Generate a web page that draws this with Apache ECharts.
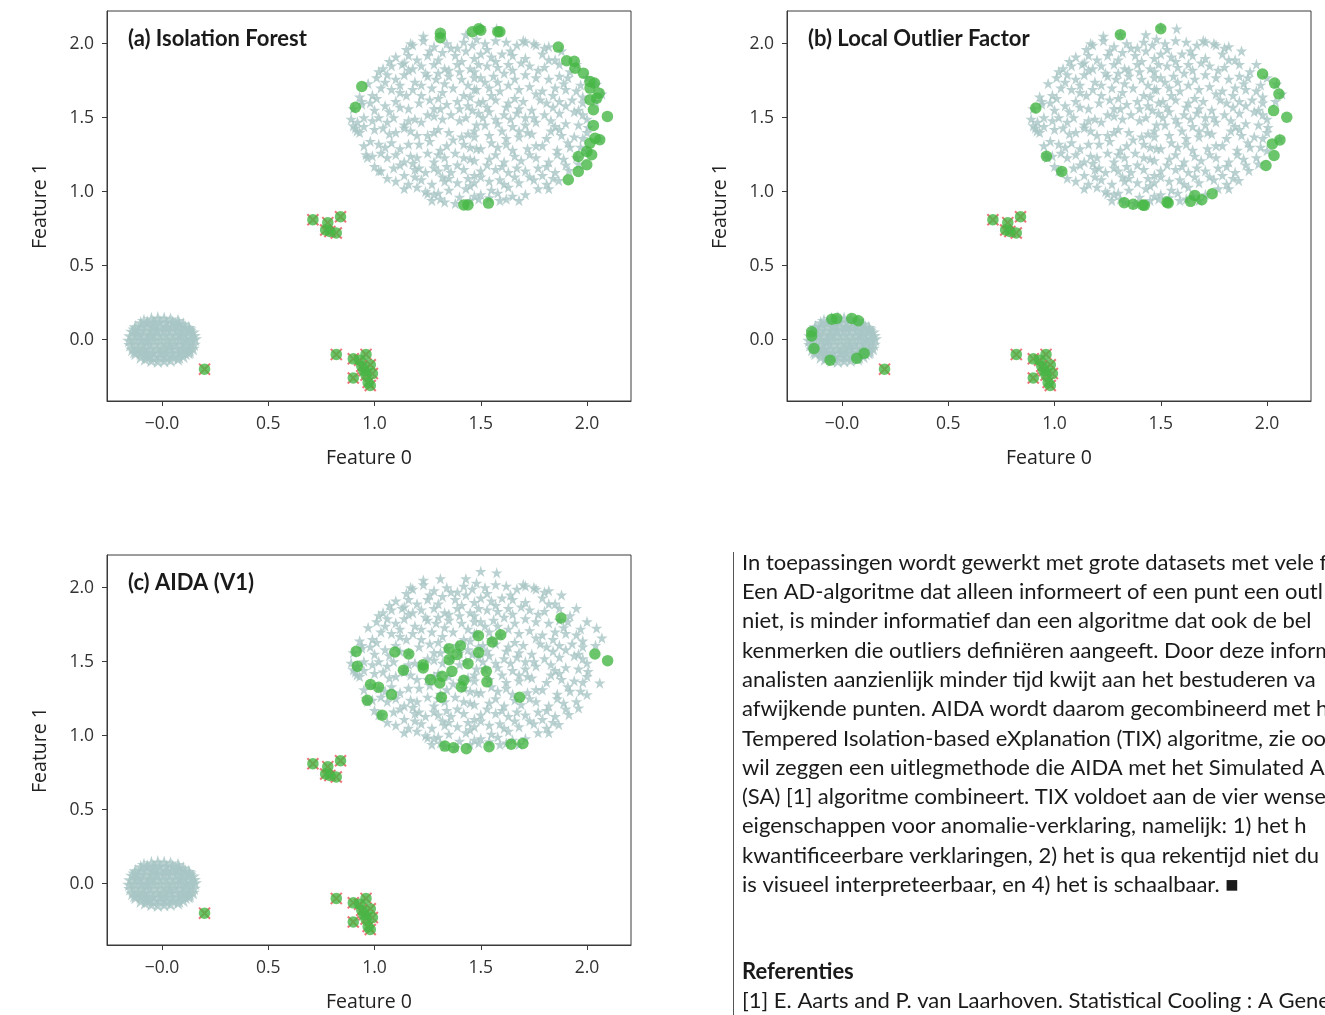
<!DOCTYPE html>
<html>
<head>
<meta charset="utf-8">
<script src="https://cdn.jsdelivr.net/npm/echarts@6/dist/echarts.min.js"></script>
<style>
html,body{margin:0;padding:0;background:#fff;}
#chart{width:1325px;height:1015px;}
</style>
</head>
<body>
<div id="chart"></div>
<script>
// ---------------- DATA ----------------
const xTickValues = [0, 0.5, 1, 1.5, 2];
const yTickValues = [0, 0.5, 1, 1.5, 2];
const panelTitles = ['(a) Isolation Forest', '(b) Local Outlier Factor', '(c) AIDA (V1)'];
const xAxisName = 'Feature 0';
const yAxisName = 'Feature 1';

// dense small cluster around the origin (inliers, stars)
const denseCluster = [
  [-0.05,0.14],[-0.02,0.145],[0.01,0.143],[0.04,0.138],
  [-0.10,0.112],[-0.07,0.117],[-0.04,0.115],[-0.01,0.119],[0.02,0.114],[0.05,0.117],[0.08,0.11],[0.10,0.105],
  [-0.125,0.085],[-0.10,0.09],[-0.07,0.087],[-0.04,0.092],[-0.01,0.088],[0.02,0.091],[0.05,0.086],[0.08,0.09],[0.11,0.084],[0.125,0.08],
  [-0.14,0.055],[-0.11,0.06],[-0.08,0.057],[-0.05,0.062],[-0.02,0.056],[0.01,0.06],[0.04,0.058],[0.07,0.061],[0.10,0.055],[0.13,0.059],[0.145,0.05],
  [-0.15,0.025],[-0.12,0.028],[-0.09,0.023],[-0.06,0.029],[-0.03,0.024],[0.00,0.027],[0.03,0.022],[0.06,0.028],[0.09,0.025],[0.12,0.021],[0.15,0.026],
  [-0.155,-0.005],[-0.13,0.0],[-0.10,-0.004],[-0.07,0.002],[-0.04,-0.003],[-0.01,0.001],[0.02,-0.002],[0.05,0.003],[0.08,-0.004],[0.11,0.002],[0.14,-0.003],[0.155,0.004],
  [-0.15,-0.035],[-0.12,-0.03],[-0.09,-0.036],[-0.06,-0.031],[-0.03,-0.034],[0.00,-0.029],[0.03,-0.035],[0.06,-0.03],[0.09,-0.033],[0.12,-0.037],[0.15,-0.032],
  [-0.14,-0.065],[-0.11,-0.06],[-0.08,-0.066],[-0.05,-0.061],[-0.02,-0.064],[0.01,-0.059],[0.04,-0.065],[0.07,-0.062],[0.10,-0.058],[0.13,-0.064],[0.145,-0.06],
  [-0.125,-0.092],[-0.10,-0.09],[-0.07,-0.095],[-0.04,-0.089],[-0.01,-0.093],[0.02,-0.09],[0.05,-0.094],[0.08,-0.088],[0.11,-0.092],[0.125,-0.087],
  [-0.10,-0.117],[-0.07,-0.115],[-0.04,-0.12],[-0.01,-0.116],[0.02,-0.119],[0.05,-0.114],[0.08,-0.118],[0.10,-0.112],
  [-0.05,-0.14],[-0.02,-0.145],[0.01,-0.142],[0.04,-0.138],
  [-0.085,0.128],[0.075,0.128],[-0.13,0.07],[0.13,0.07],[-0.13,-0.08],[0.13,-0.08],[-0.08,-0.13],[0.075,-0.13],
  [-0.025,0.07],[0.035,-0.045],[-0.075,-0.015],[0.085,0.04],[0.0,-0.08],[-0.05,0.035],
  [-0.115,0.04],[0.115,-0.015],[-0.06,-0.105],[0.065,0.1],[-0.035,0.1],[0.025,0.075],[0.095,-0.075],[-0.095,-0.075]
];

// large sparse cluster (inliers, stars)
const bigCluster = [
  [1.18,1.99],[1.23,2.02],[1.28,1.98],[1.34,2.00],[1.36,1.97],[1.42,2.01],[1.46,1.99],[1.48,2.03],
  [1.17,2.00],[1.23,2.05],[1.31,2.06],[1.43,2.06],[1.50,2.11],[1.575,2.10],[1.70,2.02],[1.75,2.00],
  [1.10,1.91],[1.16,1.92],[1.20,1.89],[1.25,1.92],[1.32,1.94],[1.38,1.92],[1.43,1.95],[1.47,1.90],
  [1.04,1.83],[1.08,1.85],[1.13,1.86],[1.18,1.83],[1.22,1.85],[1.28,1.86],[1.33,1.83],[1.39,1.86],[1.45,1.83],[1.49,1.86],
  [1.01,1.77],[1.06,1.79],[1.10,1.76],[1.14,1.79],[1.19,1.74],[1.25,1.78],[1.29,1.76],[1.35,1.78],[1.41,1.76],[1.47,1.77],
  [0.99,1.65],[1.03,1.70],[1.08,1.69],[1.12,1.67],[1.18,1.69],[1.22,1.65],[1.27,1.70],[1.32,1.67],[1.37,1.70],[1.42,1.65],[1.47,1.69],
  [0.94,1.59],[0.98,1.60],[1.05,1.58],[1.10,1.61],[1.16,1.56],[1.21,1.60],[1.28,1.56],[1.34,1.59],[1.39,1.61],[1.44,1.58],[1.49,1.60],
  [0.92,1.47],[0.95,1.50],[1.02,1.50],[1.06,1.47],[1.14,1.45],[1.22,1.47],[1.28,1.51],[1.32,1.49],[1.36,1.52],[1.43,1.50],[1.48,1.45],
  [0.91,1.43],[0.95,1.44],[1.00,1.42],[1.04,1.43],[1.10,1.40],[1.14,1.43],[1.25,1.38],[1.30,1.42],[1.35,1.40],[1.41,1.37],[1.47,1.41],
  [0.98,1.34],[1.02,1.32],[1.08,1.33],[1.12,1.29],[1.21,1.32],[1.26,1.34],[1.31,1.28],[1.42,1.32],[1.48,1.29],
  [0.96,1.25],[1.06,1.23],[1.10,1.25],[1.14,1.20],[1.20,1.23],[1.25,1.26],[1.28,1.20],[1.33,1.23],[1.39,1.18],[1.45,1.22],
  [1.03,1.14],[1.09,1.16],[1.14,1.11],[1.19,1.15],[1.24,1.13],[1.28,1.16],[1.32,1.10],[1.36,1.13],[1.42,1.15],[1.47,1.11],
  [1.10,1.07],[1.16,1.05],[1.22,1.08],[1.27,1.05],[1.33,1.07],[1.39,1.06],[1.45,1.04],
  [1.24,1.00],[1.28,0.98],[1.33,0.93],[1.38,0.92],[1.47,0.97],[1.27,0.94],
  [1.25,0.985],[1.30,0.99],[1.49,0.95],[1.59,0.94],[1.40,0.963],
  [0.90,1.445],[0.917,1.41],[0.94,1.61],[0.966,1.23],[1.02,1.14],
  [1.52,2.00],[1.57,2.02],[1.62,2.01],[1.67,1.99],[1.71,2.01],[1.76,1.99],
  [1.50,1.93],[1.55,1.91],[1.60,1.93],[1.65,1.92],[1.71,1.90],[1.79,1.93],[1.82,1.89],
  [1.53,1.85],[1.58,1.84],[1.63,1.86],[1.73,1.85],[1.80,1.84],[1.87,1.86],
  [1.50,1.77],[1.56,1.78],[1.66,1.76],[1.71,1.79],[1.76,1.77],[1.82,1.76],[1.87,1.78],[1.91,1.77],
  [1.48,1.69],[1.54,1.70],[1.59,1.68],[1.68,1.69],[1.73,1.71],[1.79,1.68],[1.85,1.70],[1.90,1.69],[1.95,1.68],
  [1.51,1.61],[1.57,1.62],[1.63,1.60],[1.70,1.61],[1.78,1.62],[1.81,1.60],[1.87,1.61],[1.93,1.62],[1.98,1.60],
  [1.49,1.53],[1.54,1.54],[1.61,1.52],[1.67,1.53],[1.74,1.55],[1.80,1.52],[1.87,1.53],[1.94,1.54],[1.98,1.52],
  [1.52,1.45],[1.58,1.46],[1.65,1.44],[1.71,1.45],[1.76,1.47],[1.85,1.44],[1.90,1.46],[1.96,1.45],
  [1.47,1.37],[1.54,1.38],[1.62,1.36],[1.68,1.37],[1.74,1.39],[1.81,1.36],[1.88,1.38],[1.94,1.37],[1.98,1.36],
  [1.50,1.29],[1.58,1.30],[1.65,1.28],[1.72,1.29],[1.79,1.31],[1.86,1.28],[1.92,1.30],
  [1.47,1.21],[1.54,1.22],[1.61,1.20],[1.69,1.21],[1.76,1.23],[1.82,1.20],[1.89,1.22],
  [1.50,1.14],[1.57,1.15],[1.63,1.13],[1.71,1.14],[1.77,1.16],[1.85,1.13],
  [1.47,1.06],[1.54,1.07],[1.61,1.05],[1.68,1.06],[1.75,1.08],[1.81,1.05],
  [1.50,0.98],[1.58,0.99],[1.65,0.97],[1.71,0.98],
  [2.045,1.726],[2.07,1.66],[2.06,1.356],[2.005,1.434],[2.04,1.61],[2.0,1.77],[1.95,1.86],[1.88,1.95],[1.82,1.98],
  [2.0,1.277],[1.96,1.187],[1.915,1.143],[1.867,1.075],[1.82,1.02],
  [1.12,1.72],[1.30,1.80],[1.44,1.72],[1.58,1.74],[1.62,1.57],[1.75,1.50],[1.68,1.41],[1.55,1.33],[1.37,1.35],[1.20,1.38],
  [1.07,1.54],[1.25,1.52],[1.40,1.56],[1.57,1.49],[1.83,1.41],[1.90,1.58],[1.73,1.25],[1.60,1.17],[1.38,1.26],[1.18,1.19],
  [1.30,1.14],[1.44,1.09],[1.66,1.10],[1.79,1.11],[1.91,1.33],[1.84,1.65],[1.65,1.82],[1.40,1.81],[1.26,1.62],[1.16,1.48],
  [1.15,1.96],[1.26,1.95],[1.39,1.97],[1.53,1.96],[1.64,1.95],[1.80,1.97],
  [1.07,1.88],[1.14,1.87],[1.30,1.89],[1.41,1.88],[1.57,1.88],[1.69,1.87],[1.85,1.89],
  [1.02,1.81],[1.16,1.82],[1.24,1.80],[1.35,1.82],[1.47,1.81],[1.61,1.80],[1.77,1.82],[1.92,1.81],
  [0.97,1.73],[1.05,1.74],[1.22,1.72],[1.33,1.73],[1.52,1.74],[1.63,1.72],[1.89,1.73],[1.97,1.72],
  [0.93,1.64],[1.01,1.63],[1.15,1.65],[1.30,1.63],[1.45,1.64],[1.55,1.65],[1.66,1.63],[1.76,1.66],[1.98,1.64],
  [0.90,1.56],[1.00,1.55],[1.12,1.57],[1.31,1.56],[1.46,1.55],[1.53,1.57],[1.68,1.56],[1.84,1.57],[1.96,1.55],
  [0.89,1.49],[0.99,1.48],[1.09,1.50],[1.19,1.49],[1.40,1.48],[1.51,1.50],[1.64,1.49],[1.71,1.50],[1.83,1.48],[2.00,1.49],
  [0.93,1.40],[1.07,1.39],[1.17,1.41],[1.28,1.40],[1.44,1.39],[1.60,1.41],[1.72,1.40],[1.87,1.42],[2.00,1.40],
  [0.95,1.31],[1.05,1.30],[1.16,1.32],[1.34,1.31],[1.45,1.30],[1.62,1.32],[1.76,1.31],[1.97,1.30],
  [0.99,1.24],[1.03,1.26],[1.17,1.24],[1.30,1.25],[1.42,1.23],[1.57,1.25],[1.66,1.24],[1.86,1.25],[1.95,1.23],
  [1.00,1.17],[1.12,1.18],[1.21,1.16],[1.34,1.17],[1.53,1.18],[1.67,1.16],[1.81,1.17],[1.90,1.18],
  [1.06,1.09],[1.19,1.10],[1.35,1.09],[1.50,1.10],[1.59,1.08],[1.73,1.10],[1.84,1.09],
  [1.14,1.02],[1.20,1.03],[1.35,1.01],[1.43,1.02],[1.55,1.01],[1.63,1.03],[1.77,1.02],
  [1.31,0.95],[1.45,0.94],[1.54,0.96],[1.62,0.95],[1.68,0.94]
];

// true anomalies (small isolated groups), marked with red crosses
const trueOutliers = [
  [0.71,0.81],[0.78,0.79],[0.84,0.83],[0.77,0.74],[0.79,0.73],[0.82,0.72],
  [0.82,-0.10],[0.90,-0.13],[0.93,-0.14],[0.96,-0.10],[0.98,-0.17],[0.94,-0.18],[0.95,-0.21],[0.99,-0.23],
  [0.90,-0.26],[0.97,-0.29],[0.98,-0.31],[0.96,-0.24],
  [0.20,-0.20]
];

// points flagged by Isolation Forest inside the big cluster
const iforestFlagged = [
  [1.31,2.07],[1.31,2.04],[0.94,1.71],[0.91,1.57],[1.46,2.08],[1.49,2.10],[1.42,0.91],[1.44,0.91],
  [1.50,2.09],[1.58,2.08],[1.59,2.08],[1.865,1.976],[1.904,1.884],[1.94,1.88],[1.944,1.834],[1.983,1.80],
  [2.014,1.744],[2.035,1.733],[2.014,1.699],[2.057,1.665],[2.014,1.62],[2.046,1.631],[2.03,1.553],[2.096,1.508],
  [2.03,1.447],[2.038,1.361],[2.06,1.35],[2.014,1.327],[1.999,1.271],[2.022,1.249],[1.959,1.237],[1.999,1.181],
  [1.959,1.136],[1.912,1.08],[1.536,0.922]
];

// points flagged by Local Outlier Factor
const lofFlagged = [
  [1.31,2.06],[1.50,2.10],[1.979,1.794],[2.036,1.733],[2.056,1.659],[2.031,1.547],[2.093,1.502],[2.061,1.349],
  [2.025,1.322],[2.033,1.244],[1.995,1.176],[1.742,0.985],[1.693,0.945],[1.66,0.974],[1.64,0.934],[1.529,0.929],
  [1.535,0.923],[1.423,0.907],[1.415,0.91],[1.37,0.914],[1.328,0.925],[0.912,1.565],[0.962,1.239],[1.034,1.136],
  [-0.143,0.053],[-0.143,0.024],[-0.132,-0.06],[-0.056,-0.139],[-0.048,0.137],[-0.025,0.143],[0.046,0.143],
  [0.077,0.127],[0.069,-0.127],[0.104,-0.093]
];

// points flagged by AIDA
const aidaFlagged = [
  [1.878,1.794],[1.489,1.675],[1.594,1.681],[1.554,1.632],[1.404,1.607],[1.351,1.587],[1.388,1.547],[1.351,1.513],
  [1.49,1.562],[1.44,1.486],[1.526,1.434],[1.364,1.434],[1.318,1.401],[1.307,1.356],[1.263,1.378],[1.229,1.479],
  [1.229,1.457],[1.161,1.551],[1.096,1.565],[1.136,1.441],[1.42,1.374],[1.409,1.329],[1.529,1.363],[1.315,1.259],
  [1.683,1.259],[2.037,1.551],[2.097,1.506],[0.914,1.569],[0.919,1.468],[0.981,1.345],[1.019,1.327],[1.08,1.277],
  [0.966,1.239],[1.036,1.138],[1.331,0.929],[1.372,0.918],[1.432,0.911],[1.539,0.925],[1.643,0.941],[1.698,0.947]
];

const bodyLines = [
  'In toepassingen wordt gewerkt met grote datasets met vele f',
  'Een AD-algoritme dat alleen informeert of een punt een outl',
  'niet, is minder informatief dan een algoritme dat ook de bel',
  'kenmerken die outliers definiëren aangeeft. Door deze inform',
  'analisten aanzienlijk minder tijd kwijt aan het bestuderen va',
  'afwijkende punten. AIDA wordt daarom gecombineerd met h',
  'Tempered Isolation-based eXplanation (TIX) algoritme, zie oo',
  'wil zeggen een uitlegmethode die AIDA met het Simulated An',
  '(SA) [1] algoritme combineert. TIX voldoet aan de vier wensel',
  'eigenschappen voor anomalie-verklaring, namelijk: 1) het h',
  'kwantificeerbare verklaringen, 2) het is qua rekentijd niet du',
  'is visueel interpreteerbaar, en 4) het is schaalbaar. \u25A0'
];
const refHeading = 'Referenties';
const refLine = '[1] E. Aarts and P. van Laarhoven. Statistical Cooling : A Gene';

// ---------------- CHART ----------------
const STAR = 'path://M0,-1000L224,-309L951,-309L363,118L588,809L0,382L-588,809L-363,118L-951,-309L-224,-309Z';
const XMARK = 'path://M-10,-13L0,-3L10,-13L13,-10L3,0L13,10L10,13L0,3L-10,13L-13,10L-3,0L-13,-10Z';
const STAR_COLOR = '#a8c5c4';
const GREEN = '#46b745';
const RED = '#e8545a';
const FONT = 'Lato';
const TICK_FONT = 'Open Sans';
const AXIS_COLOR = '#3a3a3a';

const grids = [
  {left: 107, top: 11, width: 524, height: 390},
  {left: 787, top: 11, width: 524, height: 390},
  {left: 107, top: 555, width: 524, height: 390}
];
const flaggedSets = [iforestFlagged, lofFlagged, aidaFlagged];

const option = {
  animation: false,
  backgroundColor: '#ffffff',
  grid: grids.map(g => Object.assign({show: true, borderColor: AXIS_COLOR, borderWidth: 1, backgroundColor: 'transparent'}, g)),
  title: grids.map((g, i) => ({
    text: panelTitles[i], left: g.left + 21, top: g.top + 17, padding: 0,
    textStyle: {fontFamily: FONT, fontWeight: 'bold', fontSize: 22, color: '#1a1a1a'}
  })),
  xAxis: grids.map((g, i) => ({
    gridIndex: i, type: 'value', min: -0.259, max: 2.207,
    name: xAxisName, nameLocation: 'middle', nameGap: 47,
    nameTextStyle: {fontFamily: TICK_FONT, fontSize: 19.5, color: '#222'},
    axisLine: {show: true, onZero: false, lineStyle: {color: AXIS_COLOR}}, splitLine: {show: false},
    axisTick: {show: true, length: 5, customValues: xTickValues, lineStyle: {color: AXIS_COLOR}},
    axisLabel: {customValues: xTickValues, margin: 14, fontFamily: TICK_FONT, fontSize: 17.5, color: '#333',
      formatter: v => (Math.abs(v) < 1e-9 ? '\u22120.0' : v.toFixed(1))}
  })),
  yAxis: grids.map((g, i) => ({
    gridIndex: i, type: 'value', min: -0.415, max: 2.22,
    name: yAxisName, nameLocation: 'middle', nameGap: 57, nameRotate: 90,
    nameTextStyle: {fontFamily: TICK_FONT, fontSize: 19.5, color: '#222'},
    axisLine: {show: true, onZero: false, lineStyle: {color: AXIS_COLOR}}, splitLine: {show: false},
    axisTick: {show: true, length: 5, customValues: yTickValues, lineStyle: {color: AXIS_COLOR}},
    axisLabel: {customValues: yTickValues, margin: 13, fontFamily: TICK_FONT, fontSize: 17.5, color: '#333',
      formatter: v => v.toFixed(1)}
  })),
  series: [],
  graphic: [
    {type: 'line', shape: {x1: 733.5, y1: 552, x2: 733.5, y2: 1015}, style: {stroke: '#555', lineWidth: 1}},
    {type: 'text', left: 742, top: 548, style: {text: bodyLines.join('\n'), font: '22px ' + FONT, lineHeight: 29.3, fill: '#1a1a1a'}},
    {type: 'text', left: 742, top: 961, style: {text: refHeading, font: 'bold 22px ' + FONT, fill: '#1a1a1a'}},
    {type: 'text', left: 742, top: 990, style: {text: refLine, font: '22px ' + FONT, fill: '#1a1a1a'}}
  ]
};

grids.forEach((g, i) => {
  option.series.push({
    type: 'scatter', xAxisIndex: i, yAxisIndex: i, symbol: STAR, symbolSize: 14,
    itemStyle: {color: STAR_COLOR}, data: denseCluster, silent: true, z: 2
  });
  option.series.push({
    type: 'scatter', xAxisIndex: i, yAxisIndex: i, symbol: STAR, symbolSize: 11.5,
    itemStyle: {color: STAR_COLOR}, data: bigCluster, silent: true, z: 2
  });
  option.series.push({
    type: 'scatter', xAxisIndex: i, yAxisIndex: i, symbol: XMARK, symbolSize: 12.5,
    itemStyle: {color: RED}, data: trueOutliers, silent: true, z: 3
  });
  option.series.push({
    type: 'scatter', xAxisIndex: i, yAxisIndex: i, symbol: 'circle', symbolSize: 11.5,
    itemStyle: {color: GREEN}, data: flaggedSets[i].concat(trueOutliers), silent: true, z: 4
  });
});

const chart = echarts.init(document.getElementById('chart'), null, {renderer: 'canvas'});
chart.setOption(option);
</script>
</body>
</html>
